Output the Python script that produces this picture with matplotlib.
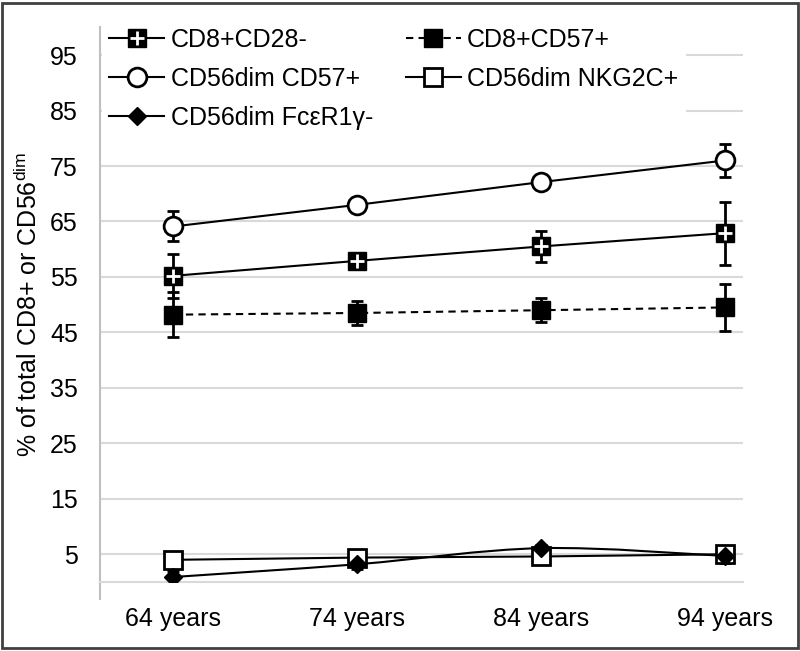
import matplotlib
matplotlib.use("Agg")
import matplotlib.pyplot as plt
import numpy as np
from matplotlib.lines import Line2D
from matplotlib.path import Path
from matplotlib.patches import PathPatch, Rectangle

plt.rcParams['font.family'] = ['Liberation Sans', 'DejaVu Sans']
plt.rcParams['mathtext.fontset'] = 'custom'
plt.rcParams['mathtext.rm'] = 'Liberation Sans'

# ---- data ----
ages = ['64 years', '74 years', '84 years', '94 years']
cd8_cd28 = [55.2, 57.9, 60.5, 62.9]
cd8_cd28_err = [4.0, 1.2, 2.8, 5.7]
cd8_cd57 = [48.2, 48.5, 49.0, 49.5]
cd8_cd57_err = [4.1, 2.1, 2.2, 4.3]
cd56_cd57 = [64.1, 68.0, 72.1, 76.0]
cd56_cd57_err = [2.7, 0.8, 0.8, 3.0]
cd56_nkg2c = [4.0, 4.4, 4.6, 5.0]
cd56_nkg2c_err = [0.3, 0.3, 0.3, 0.4]
cd56_fcer = [0.9, 3.2, 6.1, 4.7]
cd56_fcer_err = [1.0, 0.8, 0.6, 1.2]
yticks = [5, 15, 25, 35, 45, 55, 65, 75, 85, 95]

x = np.arange(len(ages))

fig = plt.figure(figsize=(8.0, 6.51), dpi=100)
ax = fig.add_axes([0.125, 0.106, 0.804, 0.852])

FS = 18
lw = 1.5
ekw = dict(fmt='none', ecolor='black', elinewidth=2, capsize=4, capthick=2, zorder=2)

# error bars
ax.errorbar(x, cd8_cd28, yerr=cd8_cd28_err, **ekw)
ax.errorbar(x, cd8_cd57, yerr=cd8_cd57_err, **ekw)
ax.errorbar(x, cd56_cd57, yerr=cd56_cd57_err, **ekw)
ax.errorbar(x, cd56_nkg2c, yerr=cd56_nkg2c_err, **ekw)
ax.errorbar(x, cd56_fcer, yerr=cd56_fcer_err, **ekw)

# lines
ax.plot(x, cd8_cd28, color='black', lw=lw, zorder=3)
l57, = ax.plot(x, cd8_cd57, color='black', lw=lw, zorder=3)
l57.set_dashes([3.5, 2.5])
ax.plot(x, cd56_cd57, color='black', lw=lw, zorder=3)
ax.plot(x, cd56_nkg2c, color='black', lw=lw, zorder=3)

# smoothed line for FceR1g (Excel-style smoothing)
px = list(x.astype(float))
py = list(cd56_fcer)
verts = [(px[0], py[0])]
codes = [Path.MOVETO]
n = len(px)
for i in range(n - 1):
    p0 = (px[max(i - 1, 0)], py[max(i - 1, 0)])
    p1 = (px[i], py[i])
    p2 = (px[i + 1], py[i + 1])
    p3 = (px[min(i + 2, n - 1)], py[min(i + 2, n - 1)])
    c1 = (p1[0] + (p2[0] - p0[0]) / 6, p1[1] + (p2[1] - p0[1]) / 6)
    c2 = (p2[0] - (p3[0] - p1[0]) / 6, p2[1] - (p3[1] - p1[1]) / 6)
    verts += [c1, c2, p2]
    codes += [Path.CURVE4] * 3
ax.add_patch(PathPatch(Path(verts, codes), fill=False, edgecolor='black', lw=lw, zorder=3))

# markers
ms = 12.5
ax.plot(x, cd8_cd28, ls='none', marker='s', ms=ms, mfc='black', mec='black', zorder=5)
ax.plot(x, cd8_cd28, ls='none', marker='+', ms=ms * 0.8, mew=2, color='white', zorder=6)
ax.plot(x, cd8_cd57, ls='none', marker='s', ms=ms, mfc='black', mec='black', zorder=5)
ax.plot(x, cd56_cd57, ls='none', marker='o', ms=13.5, mfc='white', mec='black', mew=2, zorder=5)
ax.plot(x, cd56_nkg2c, ls='none', marker='s', ms=ms, mfc='white', mec='black', mew=2, zorder=5)
ax.plot(x, cd56_fcer, ls='none', marker='D', ms=9.5, mfc='black', mec='black', zorder=5)

# axes styling
ax.set_xlim(-0.399, 3.098)
ax.set_ylim(0, 100)
ax.set_yticks(yticks)
ax.set_xticks(x)
ax.set_xticklabels(ages)
ax.tick_params(axis='both', length=0, labelsize=FS)
ax.tick_params(axis='y', pad=16)
ax.tick_params(axis='x', pad=18)
ax.grid(axis='y', color='#d9d9d9', lw=1.5, zorder=0)
ax.set_axisbelow(True)
for s in ['top', 'right']:
    ax.spines[s].set_visible(False)
ax.spines['left'].set_color('#bfbfbf')
ax.spines['left'].set_linewidth(1.5)
ax.spines['bottom'].set_color('#d9d9d9')
ax.spines['bottom'].set_linewidth(1.5)
ax.plot([0, 0], [0, -0.03], transform=ax.transAxes, color='#bfbfbf', lw=1.5, clip_on=False)

ax.set_ylabel('% of total CD8+ or CD56$^{\\mathrm{dim}}$', fontsize=FS, labelpad=6)

# legend
h_cd28 = (Line2D([], [], color='black', lw=lw, marker='s', ms=ms, mfc='black', mec='black'),
          Line2D([], [], ls='none', marker='+', ms=ms * 0.8, mew=2, color='white'))
h_cd57 = Line2D([], [], color='black', lw=lw, ls=(0, (3.5, 2.5)), marker='s', ms=ms, mfc='black', mec='black')
h_c57 = Line2D([], [], color='black', lw=lw, marker='o', ms=13.5, mfc='white', mec='black', mew=2)
h_nkg = Line2D([], [], color='black', lw=lw, marker='s', ms=ms, mfc='white', mec='black', mew=2)
h_fc = Line2D([], [], color='black', lw=lw, marker='D', ms=9.5, mfc='black', mec='black')

leg = ax.legend([h_cd28, h_c57, h_fc, h_cd57, h_nkg],
                ['CD8+CD28-', 'CD56dim CD57+', 'CD56dim FcεR1γ-', 'CD8+CD57+', 'CD56dim NKG2C+'],
                ncol=2, loc='upper left', bbox_to_anchor=(0.003, 1.012), fontsize=FS,
                frameon=True, facecolor='white', edgecolor='none', framealpha=1,
                fancybox=False, borderpad=0.3, borderaxespad=0, handlelength=2.2,
                handletextpad=0.25, columnspacing=1.3, labelspacing=0.6, numpoints=1)
leg.set_zorder(10)

# figure border
fig.patches.append(Rectangle((0.003, 0.004), 0.994, 0.992, transform=fig.transFigure,
                             fill=False, edgecolor='#404040', lw=2))

fig.savefig('out.png', dpi=100)
